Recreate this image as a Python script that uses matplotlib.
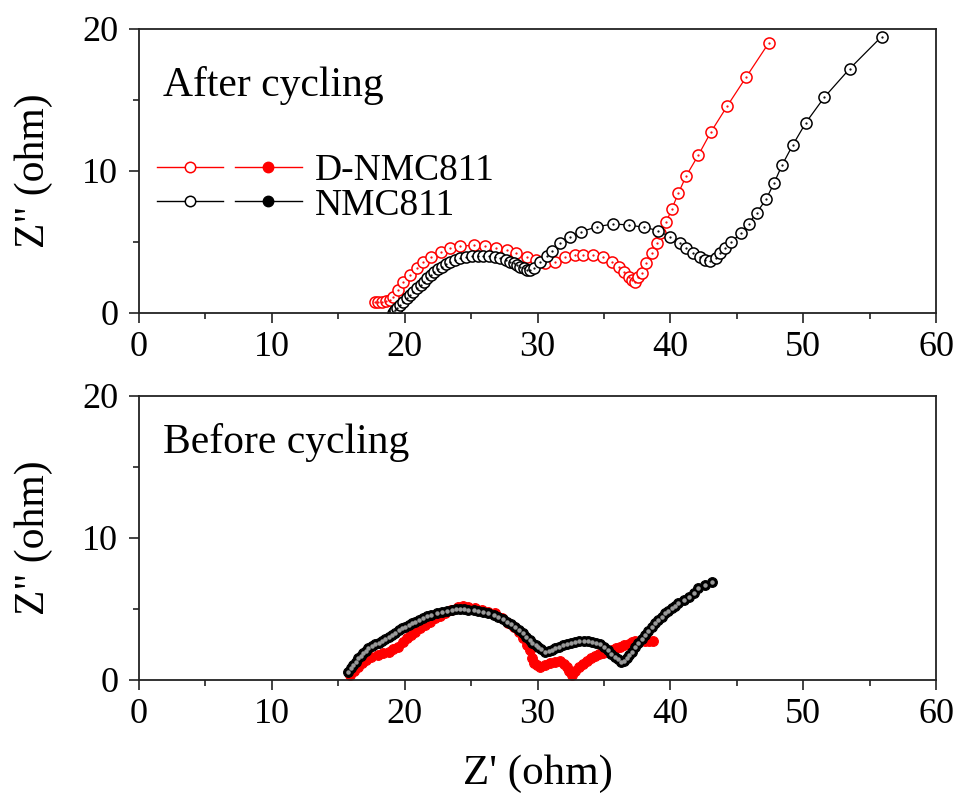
import matplotlib
matplotlib.use("Agg")
from matplotlib import pyplot as plt
from matplotlib.lines import Line2D
from matplotlib.legend_handler import HandlerTuple
from matplotlib.ticker import MultipleLocator

plt.rcParams['font.family'] = ['Liberation Serif', 'DejaVu Serif']
plt.rcParams['font.size'] = 26

# after cycling, D-NMC811 (red)
after_d_x = [17.8, 18.0, 18.3, 18.6, 18.9, 19.15, 19.5, 19.9, 20.4, 20.9, 21.4, 22.0, 22.7,
             23.4, 24.2, 25.2, 26.05, 26.9, 27.7, 28.4, 29.2, 29.9, 30.6, 31.3, 32.1, 32.8,
             33.45, 34.2, 34.96, 35.6, 36.1, 36.5, 36.85, 37.1, 37.35, 37.6, 37.85, 38.2, 38.6,
             39.0, 39.2, 39.7, 40.1, 40.6, 41.2, 42.1, 43.07, 44.3, 45.7, 47.39]
after_d_y = [0.75, 0.8, 0.8, 0.85, 0.9, 1.15, 1.62, 2.2, 2.68, 3.15, 3.6, 3.96, 4.3,
             4.55, 4.7, 4.78, 4.72, 4.6, 4.42, 4.2, 3.96, 3.73, 3.5, 3.6, 3.96, 4.08,
             4.08, 4.08, 3.92, 3.6, 3.26, 2.9, 2.56, 2.35, 2.2, 2.5, 2.8, 3.5, 4.2,
             4.9, 5.6, 6.43, 7.3, 8.43, 9.67, 11.1, 12.77, 14.6, 16.6, 18.99]

# after cycling, NMC811 (black)
after_n_x = [19.1, 19.2, 19.3, 19.45, 19.65, 19.9, 20.15, 20.4, 20.65, 20.9, 21.2, 21.45, 21.7,
             21.95, 22.2, 22.5, 22.8, 23.1, 23.4, 23.8, 24.2, 24.6, 25.05, 25.5, 25.9, 26.35,
             26.8, 27.2, 27.6, 27.9, 28.2, 28.45, 28.7, 28.95, 29.2, 29.45, 29.7, 30.2, 30.7,
             31.1, 31.7, 32.45, 33.3, 34.5, 35.7, 36.85, 38.05, 39.1, 40.0, 40.7, 41.2, 41.7,
             42.2, 42.6, 43.0, 43.4, 43.75, 44.1, 44.6, 45.3, 45.9, 46.5, 47.2, 47.8, 48.4,
             49.2, 50.2, 51.6, 53.5, 55.9]
after_n_y = [0.0, 0.1, 0.2, 0.35, 0.56, 0.8, 1.03, 1.27, 1.5, 1.73, 1.97, 2.2, 2.44,
             2.67, 2.9, 3.08, 3.26, 3.43, 3.6, 3.73, 3.85, 3.95, 4.0, 4.02, 4.0, 3.98,
             3.93, 3.84, 3.73, 3.62, 3.5, 3.38, 3.26, 3.14, 3.03, 3.02, 3.15, 3.6, 4.0,
             4.4, 4.9, 5.37, 5.73, 6.08, 6.27, 6.2, 6.03, 5.8, 5.33, 4.9, 4.55, 4.2,
             3.92, 3.7, 3.68, 3.85, 4.2, 4.55, 5.02, 5.6, 6.3, 7.06, 8.0, 9.13, 10.4,
             11.8, 13.4, 15.2, 17.2, 19.46]

# before cycling, D-NMC811 (red)
before_d_x = [15.9, 16.2, 16.5, 16.8, 17.1, 17.5, 18.0, 18.4, 18.8, 19.15, 19.5, 19.85, 20.2,
              20.5, 20.8, 21.15, 21.5, 21.9, 22.3, 22.65, 23.0, 23.5, 24.05, 24.4, 24.8, 25.3,
              25.8, 26.3, 26.8, 27.3, 27.8, 28.2, 28.6, 28.9, 29.2, 29.4, 29.6, 29.7, 29.95,
              30.2, 30.6, 30.95, 31.3, 31.7, 32.0, 32.2, 32.4, 32.6, 32.85, 33.1, 33.4, 33.7,
              34.0, 34.3, 34.6, 34.95, 35.3, 35.6, 35.9, 36.2, 36.5, 36.85, 37.1, 37.35, 37.7,
              38.1, 38.4, 38.7]
before_d_y = [0.35, 0.65, 0.94, 1.17, 1.4, 1.6, 1.76, 1.88, 2.0, 2.17, 2.35, 2.64, 2.93,
              3.17, 3.4, 3.63, 3.87, 4.1, 4.34, 4.52, 4.7, 4.93, 5.16, 5.18, 5.16, 5.05,
              4.93, 4.82, 4.7, 4.35, 3.99, 3.7, 3.4, 2.93, 2.46, 2.1, 1.53, 1.17, 1.05,
              0.94, 1.05, 1.17, 1.27, 1.36, 1.15, 0.94, 0.6, 0.35, 0.65, 0.94, 1.15, 1.36,
              1.52, 1.69, 1.8, 1.92, 2.0, 2.1, 2.22, 2.35, 2.45, 2.54, 2.65, 2.77, 2.77,
              2.77, 2.77, 2.77]

# before cycling, NMC811 (black)
before_n_x = [15.77, 15.95, 16.13, 16.3, 16.5, 16.7, 16.9, 17.1, 17.27, 17.55, 17.8, 18.05, 18.3,
              18.55, 18.8, 19.05, 19.3, 19.55, 19.8, 20.05, 20.3, 20.55, 20.8, 21.1, 21.4, 21.7,
              22.0, 22.4, 22.8, 23.2, 23.55, 23.9, 24.2, 24.5, 24.8, 25.2, 25.55, 25.9, 26.3,
              26.7, 27.05, 27.4, 27.7, 28.0, 28.3, 28.6, 28.9, 29.15, 29.4, 29.6, 29.85, 30.07,
              30.3, 30.6, 30.85, 31.1, 31.35, 31.6, 31.9, 32.2, 32.5, 32.8, 33.15, 33.5, 33.8,
              34.1, 34.4, 34.7, 35.0, 35.3, 35.55, 35.8, 36.05, 36.3, 36.5, 36.7, 36.9, 37.1,
              37.35, 37.6, 37.85, 38.1, 38.35, 38.6, 38.85, 39.1, 39.35, 39.6, 39.85, 40.1, 40.35,
              40.6, 41.0, 41.4, 41.75, 42.1, 42.6, 43.1]
before_n_y = [0.58, 0.82, 1.06, 1.3, 1.53, 1.7, 1.88, 2.05, 2.23, 2.37, 2.5, 2.62, 2.74,
              2.9, 3.05, 3.19, 3.33, 3.49, 3.64, 3.75, 3.87, 3.98, 4.1, 4.25, 4.39, 4.48,
              4.58, 4.7, 4.81, 4.87, 4.93, 4.97, 5.0, 4.97, 4.93, 4.9, 4.86, 4.8, 4.7,
              4.58, 4.46, 4.28, 4.1, 3.93, 3.75, 3.52, 3.28, 3.04, 2.8, 2.62, 2.45, 2.3,
              2.15, 2.0, 2.05, 2.1, 2.22, 2.35, 2.45, 2.54, 2.62, 2.7, 2.74, 2.77, 2.74,
              2.7, 2.62, 2.54, 2.32, 2.1, 1.85, 1.6, 1.45, 1.29, 1.35, 1.53, 1.75, 2.0,
              2.3, 2.58, 2.88, 3.17, 3.46, 3.75, 3.99, 4.23, 4.47, 4.7, 4.88, 5.05, 5.22,
              5.4, 5.63, 5.87, 6.16, 6.46, 6.7, 6.92]

x_ticks = [0, 10, 20, 30, 40, 50, 60]
y_ticks = [0, 10, 20]


def style_axes(ax):
    ax.set_xlim(0, 60)
    ax.set_ylim(0, 20)
    ax.set_xticks(x_ticks)
    ax.set_yticks(y_ticks)
    ax.xaxis.set_minor_locator(MultipleLocator(5))
    ax.yaxis.set_minor_locator(MultipleLocator(5))
    ax.tick_params(which='both', direction='out', top=False, right=False, width=1.2, color='#222222')
    ax.tick_params(axis='y', which='major', length=7, pad=8)
    ax.tick_params(axis='x', which='major', length=7, pad=6)
    ax.tick_params(which='minor', length=4.3)
    for sp in ax.spines.values():
        sp.set_linewidth(1.3)
        sp.set_color('#222222')
    ax.set_ylabel('Z" (ohm)', fontsize=30, labelpad=21)


fig = plt.figure(figsize=(9.56, 7.94), dpi=100)
ax1 = fig.add_axes([0.1454, 0.6058, 0.8337, 0.3577])
ax2 = fig.add_axes([0.1454, 0.1436, 0.8337, 0.3577])

# top panel: open markers
ax1.plot(after_d_x, after_d_y, '-', color='red', lw=0.9, marker='o', ms=8,
         mfc='white', mec='red', mew=1.1)
ax1.plot(after_d_x, after_d_y, '.', color='red', ms=1.2, lw=0)
ax1.plot(after_n_x, after_n_y, '-', color='black', lw=0.9, marker='o', ms=8,
         mfc='white', mec='black', mew=1.1)
ax1.plot(after_n_x, after_n_y, '.', color='black', ms=1.2, lw=0)
ax1.text(0.03, 0.80, 'After cycling', transform=ax1.transAxes, va='center', ha='left', fontsize=30)

# bottom panel: filled markers
ax2.plot(before_d_x, before_d_y, '-', color='red', lw=0.9, marker='o', ms=7,
         mfc='red', mec='red', mew=0.8)
ax2.plot(before_n_x, before_n_y, '-', color='black', lw=0.9, marker='o', ms=7,
         mfc='black', mec='black', mew=0.8)
ax2.plot(before_n_x, before_n_y, 'o', color='#9a9a9a', ms=2.2, lw=0)
ax2.text(0.03, 0.835, 'Before cycling', transform=ax2.transAxes, va='center', ha='left', fontsize=30)

for ax in (ax1, ax2):
    style_axes(ax)
ax2.set_xlabel("Z' (ohm)", fontsize=31, labelpad=17)

# legend with open + filled marker pairs
h_red = (Line2D([], [], color='red', lw=1.0, marker='o', ms=7.5, mfc='white', mec='red', mew=1.1),
         Line2D([], [], color='red', lw=1.0, marker='o', ms=7.5, mfc='red', mec='red'))
h_blk = (Line2D([], [], color='black', lw=1.0, marker='o', ms=7.5, mfc='white', mec='black', mew=1.1),
         Line2D([], [], color='black', lw=1.0, marker='o', ms=7.5, mfc='black', mec='black'))
ax1.legend([h_red, h_blk], ['D-NMC811', 'NMC811'],
           handler_map={tuple: HandlerTuple(ndivide=None, pad=0.32)},
           loc='center left', bbox_to_anchor=(0.022, 0.44), frameon=False, fontsize=27,
           handlelength=3.87, handletextpad=0.35, labelspacing=0.0, borderpad=0,
           borderaxespad=0, numpoints=1)

fig.savefig('out.png', dpi=100)
